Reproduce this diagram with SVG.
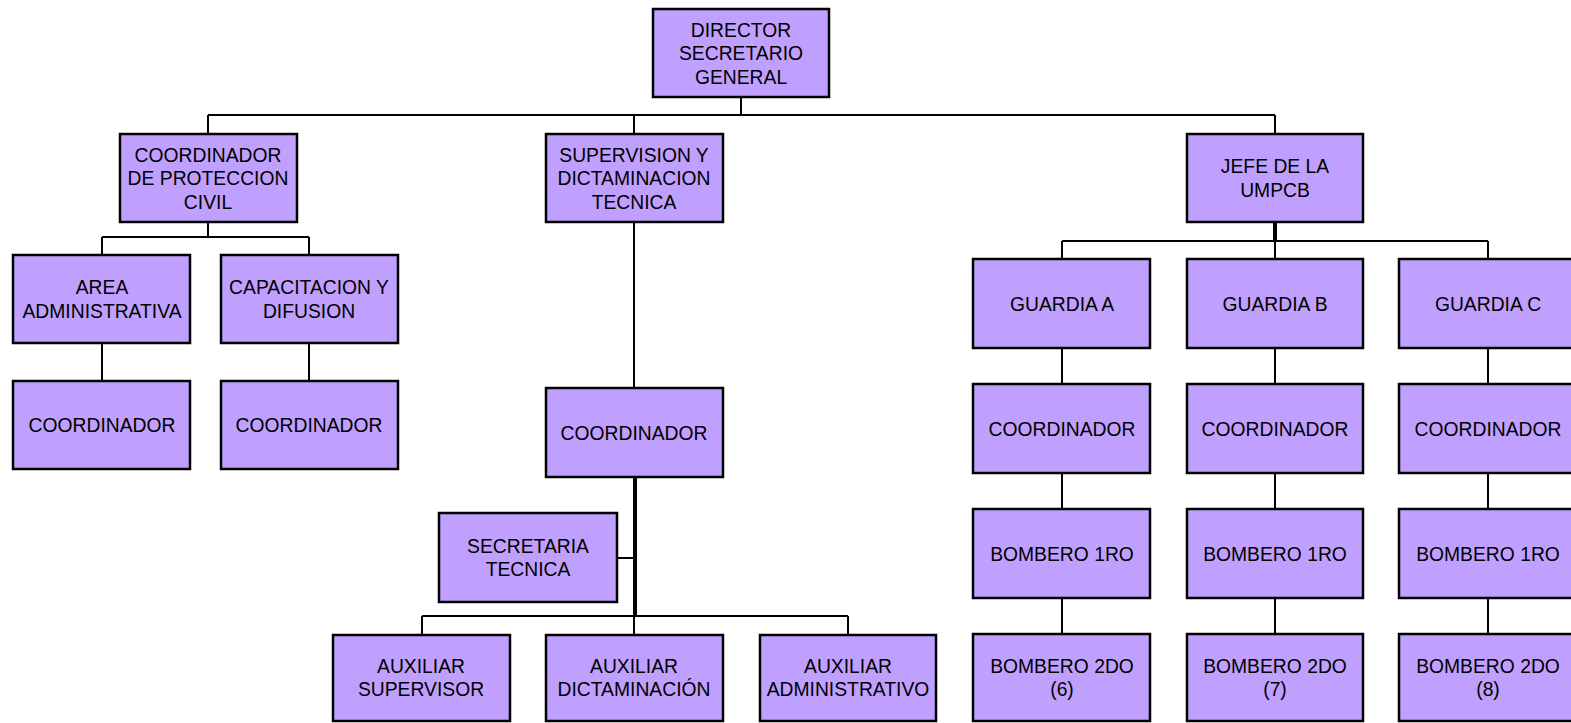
<svg xmlns="http://www.w3.org/2000/svg" width="1571" height="723" viewBox="0 0 1571 723">
<style>
.b{fill:#C0A0FF;stroke:#000;stroke-width:2.5}
.t{font-family:"Liberation Sans",Arial,sans-serif;font-size:21px;fill:#000;text-anchor:middle}
.c{fill:none;stroke:#000;stroke-width:2}
.k{fill:none;stroke:#000;stroke-width:4}
</style>
<rect width="1571" height="723" fill="#fff"/>
<g id="connectors">
<path class="c" d="M741 97V115M208 115H1275M208 115V134M634 115V134M1275 115V134"/>
<path class="c" d="M208 222V237M102 237H309M102 237V255M309 237V255M102 343V381M309 343V381"/>
<path class="c" d="M634 222V388"/>
<path class="k" d="M635 477V616"/>
<path class="c" d="M617 558H635M422 616H848M422 616V635M634 616V635M848 616V635"/>
<path class="k" d="M1275 222V241"/>
<path class="c" d="M1062 241H1488M1062 241V259M1275 241V259M1488 241V259"/>
<path class="c" d="M1062 348V384M1062 473V509M1062 598V634M1275 348V384M1275 473V509M1275 598V634M1488 348V384M1488 473V509M1488 598V634"/>
</g>
<g id="director"><rect class="b" x="653" y="9" width="176" height="88"/><text class="t" transform="translate(741,0) scale(0.92,1)"><tspan x="0" y="37">DIRECTOR</tspan><tspan x="0" y="60.5">SECRETARIO</tspan><tspan x="0" y="84">GENERAL</tspan></text></g>
<g id="coord-pc"><rect class="b" x="120" y="134" width="177" height="88"/><text class="t" transform="translate(208,0) scale(0.92,1)"><tspan x="0" y="162">COORDINADOR</tspan><tspan x="0" y="185.5">DE PROTECCION</tspan><tspan x="0" y="209">CIVIL</tspan></text></g>
<g id="supervision"><rect class="b" x="546" y="134" width="177" height="88"/><text class="t" transform="translate(634,0) scale(0.92,1)"><tspan x="0" y="162">SUPERVISION Y</tspan><tspan x="0" y="185.5">DICTAMINACION</tspan><tspan x="0" y="209">TECNICA</tspan></text></g>
<g id="jefe"><rect class="b" x="1187" y="134" width="176" height="88"/><text class="t" transform="translate(1275,0) scale(0.92,1)"><tspan x="0" y="173.5">JEFE DE LA</tspan><tspan x="0" y="197">UMPCB</tspan></text></g>
<g id="area-admin"><rect class="b" x="13" y="255" width="177" height="88"/><text class="t" transform="translate(102,0) scale(0.92,1)"><tspan x="0" y="294.5">AREA</tspan><tspan x="0" y="318">ADMINISTRATIVA</tspan></text></g>
<g id="capacitacion"><rect class="b" x="221" y="255" width="177" height="88"/><text class="t" transform="translate(309,0) scale(0.92,1)"><tspan x="0" y="294.5">CAPACITACION Y</tspan><tspan x="0" y="318">DIFUSION</tspan></text></g>
<g id="coord-aa"><rect class="b" x="13" y="381" width="177" height="88"/><text class="t" transform="translate(102,0) scale(0.92,1)" x="0" y="432.5">COORDINADOR</text></g>
<g id="coord-cd"><rect class="b" x="221" y="381" width="177" height="88"/><text class="t" transform="translate(309,0) scale(0.92,1)" x="0" y="432.5">COORDINADOR</text></g>
<g id="coord-sd"><rect class="b" x="546" y="388" width="177" height="89"/><text class="t" transform="translate(634,0) scale(0.92,1)" x="0" y="440">COORDINADOR</text></g>
<g id="secretaria"><rect class="b" x="439" y="513" width="178" height="89"/><text class="t" transform="translate(528,0) scale(0.92,1)"><tspan x="0" y="553">SECRETARIA</tspan><tspan x="0" y="576.5">TECNICA</tspan></text></g>
<g id="aux-sup"><rect class="b" x="333" y="635" width="177" height="86"/><text class="t" transform="translate(421,0) scale(0.92,1)"><tspan x="0" y="673">AUXILIAR</tspan><tspan x="0" y="696.5">SUPERVISOR</tspan></text></g>
<g id="aux-dict"><rect class="b" x="546" y="635" width="177" height="86"/><text class="t" transform="translate(634,0) scale(0.92,1)"><tspan x="0" y="673">AUXILIAR</tspan><tspan x="0" y="696.5">DICTAMINACIÓN</tspan></text></g>
<g id="aux-admin"><rect class="b" x="760" y="635" width="176" height="86"/><text class="t" transform="translate(848,0) scale(0.92,1)"><tspan x="0" y="673">AUXILIAR</tspan><tspan x="0" y="696.5">ADMINISTRATIVO</tspan></text></g>
<g id="guardia-a"><rect class="b" x="973" y="259" width="177" height="89"/><text class="t" transform="translate(1062,0) scale(0.92,1)" x="0" y="311">GUARDIA A</text></g>
<g id="guardia-b"><rect class="b" x="1187" y="259" width="176" height="89"/><text class="t" transform="translate(1275,0) scale(0.92,1)" x="0" y="311">GUARDIA B</text></g>
<g id="guardia-c"><rect class="b" x="1399" y="259" width="177" height="89"/><text class="t" transform="translate(1488,0) scale(0.92,1)" x="0" y="311">GUARDIA C</text></g>
<g id="coord-a"><rect class="b" x="973" y="384" width="177" height="89"/><text class="t" transform="translate(1062,0) scale(0.92,1)" x="0" y="436">COORDINADOR</text></g>
<g id="coord-b"><rect class="b" x="1187" y="384" width="176" height="89"/><text class="t" transform="translate(1275,0) scale(0.92,1)" x="0" y="436">COORDINADOR</text></g>
<g id="coord-c"><rect class="b" x="1399" y="384" width="177" height="89"/><text class="t" transform="translate(1488,0) scale(0.92,1)" x="0" y="436">COORDINADOR</text></g>
<g id="b1-a"><rect class="b" x="973" y="509" width="177" height="89"/><text class="t" transform="translate(1062,0) scale(0.92,1)" x="0" y="561">BOMBERO 1RO</text></g>
<g id="b1-b"><rect class="b" x="1187" y="509" width="176" height="89"/><text class="t" transform="translate(1275,0) scale(0.92,1)" x="0" y="561">BOMBERO 1RO</text></g>
<g id="b1-c"><rect class="b" x="1399" y="509" width="177" height="89"/><text class="t" transform="translate(1488,0) scale(0.92,1)" x="0" y="561">BOMBERO 1RO</text></g>
<g id="b2-a"><rect class="b" x="973" y="634" width="177" height="87"/><text class="t" transform="translate(1062,0) scale(0.92,1)"><tspan x="0" y="673">BOMBERO 2DO</tspan><tspan x="0" y="696.5">(6)</tspan></text></g>
<g id="b2-b"><rect class="b" x="1187" y="634" width="176" height="87"/><text class="t" transform="translate(1275,0) scale(0.92,1)"><tspan x="0" y="673">BOMBERO 2DO</tspan><tspan x="0" y="696.5">(7)</tspan></text></g>
<g id="b2-c"><rect class="b" x="1399" y="634" width="177" height="87"/><text class="t" transform="translate(1488,0) scale(0.92,1)"><tspan x="0" y="673">BOMBERO 2DO</tspan><tspan x="0" y="696.5">(8)</tspan></text></g>
</svg>
